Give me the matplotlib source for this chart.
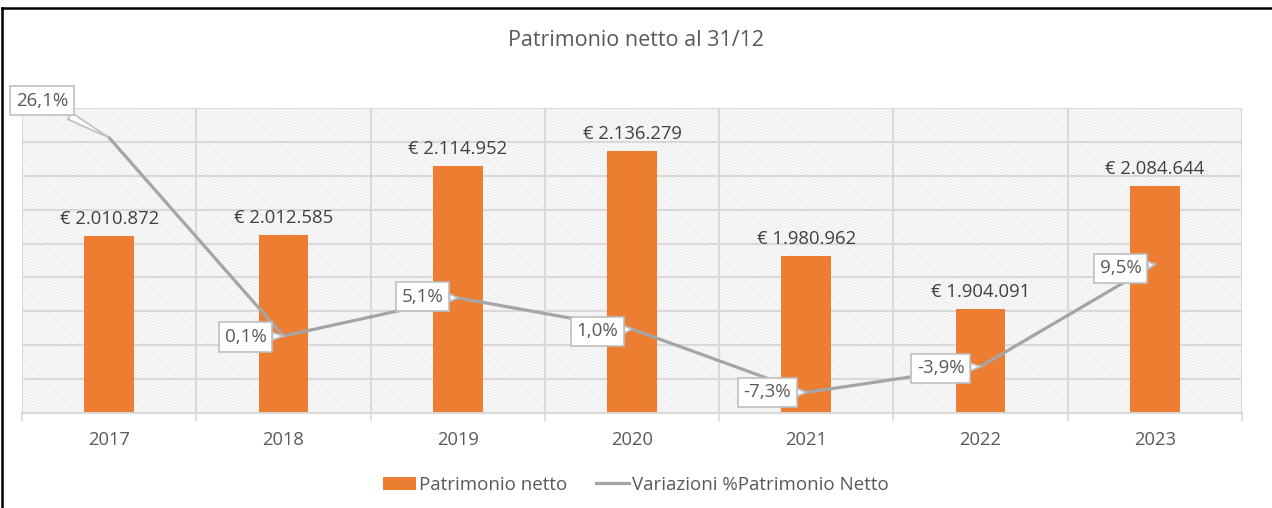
import numpy as np
import matplotlib
matplotlib.use('Agg')
from matplotlib import pyplot as plt
from matplotlib.patches import Rectangle, Patch
from matplotlib.lines import Line2D

# --- data ---
years = ['2017', '2018', '2019', '2020', '2021', '2022', '2023']
patrimonio = [2010872, 2012585, 2114952, 2136279, 1980962, 1904091, 2084644]
variazioni = [26.1, 0.1, 5.1, 1.0, -7.3, -3.9, 9.5]

# offsets (pixels) of the percentage callouts from their points
label_offsets = [(-67, 37), (-38, -1), (-35, 1), (-35, -2), (-39, 0), (-40, -2), (-34, -4)]

orange = '#ED7D31'
gray_line = '#A5A5A5'
grid_col = '#D9D9D9'
txt_col = '#595959'

plt.rcParams['font.family'] = ['Open Sans', 'DejaVu Sans']
plt.rcParams['hatch.linewidth'] = 0.5

def fmt_euro(v):
    return '€ ' + '{:,}'.format(v).replace(',', '.')

def fmt_pct(v):
    return '{:.1f}%'.format(v).replace('.', ',')

fig = plt.figure(figsize=(12.72, 5.08), dpi=100)
ax = fig.add_axes([22 / 1272, 1 - 413 / 508, 1220 / 1272, 305 / 508])

x = np.arange(len(years))

# hatched plot background
bg = Rectangle((0, 0), 1, 1, transform=ax.transAxes, facecolor='white',
               edgecolor='#E2E2E2', hatch='\\' * 12, linewidth=0, zorder=0)
ax.add_patch(bg)

ax.bar(x, patrimonio, width=0.285, color=orange, zorder=2)
for xi, v in zip(x, patrimonio):
    ax.annotate(fmt_euro(v), (xi, v), xytext=(0, 8), textcoords='offset pixels',
                ha='center', va='bottom', fontsize=13.3, color='#404040', zorder=3)

ax.set_xlim(-0.5, len(years) - 0.5)
ax.set_ylim(1750000, 2200000)
ax.set_yticks(np.arange(1750000, 2200001, 50000))
ax.set_yticklabels([])
ax.set_xticks(x)
ax.set_xticklabels(years, fontsize=13.2, color=txt_col)
ax.set_xticks(np.arange(-0.5, len(years), 1), minor=True)
ax.tick_params(axis='y', length=0)
ax.tick_params(axis='x', which='major', length=0, pad=13)
ax.tick_params(axis='x', which='minor', length=6, color=grid_col, width=1.2, direction='out')
ax.grid(True, axis='y', color=grid_col, linewidth=1.5)
ax.grid(True, axis='x', which='minor', color=grid_col, linewidth=1.5)
ax.set_axisbelow(True)
for s in ['top', 'left', 'right']:
    ax.spines[s].set_visible(False)
ax.spines['bottom'].set_color(grid_col)
ax.spines['bottom'].set_linewidth(1.5)

# secondary axis for the percentage variation
ax2 = ax.twinx()
ax2.plot(x, variazioni, color=gray_line, linewidth=2.3, zorder=3)
ax2.set_ylim(-10, 30)
ax2.set_yticks([])
for s in ax2.spines.values():
    s.set_visible(False)

for xi, v, off in zip(x, variazioni, label_offsets):
    ax2.annotate(fmt_pct(v), (xi, v), xytext=off, textcoords='offset pixels',
                 ha='center', va='center', fontsize=13.5, color=txt_col, zorder=4,
                 bbox=dict(boxstyle='square,pad=0.3', fc='white', ec='#BFBFBF', lw=1.2),
                 arrowprops=dict(arrowstyle='wedge,tail_width=0.4', fc='white',
                                 ec='#BFBFBF', lw=1.2, shrinkA=0, shrinkB=0))

fig.text(0.5, 1 - 40 / 508, 'Patrimonio netto al 31/12', ha='center', va='center',
         fontsize=15.5, color=txt_col)

handles = [Patch(facecolor=orange, edgecolor='none'),
           Line2D([0], [0], color=gray_line, linewidth=2.3)]
fig.legend(handles, ['Patrimonio netto', 'Variazioni %Patrimonio Netto'],
           loc='center', bbox_to_anchor=(0.5, 1 - 485 / 508), ncol=2, frameon=False,
           fontsize=13.5, labelcolor=txt_col, handlelength=1.75, handletextpad=0.2,
           columnspacing=1.5)

# black frame lines at top and left of the picture
fig.add_artist(Line2D([2 / 1272, 1], [1 - 8 / 508, 1 - 8 / 508], color='black', linewidth=1.8))
fig.add_artist(Line2D([2 / 1272, 2 / 1272], [0, 1 - 8 / 508], color='black', linewidth=1.8))

fig.savefig('out.png', dpi=100)
